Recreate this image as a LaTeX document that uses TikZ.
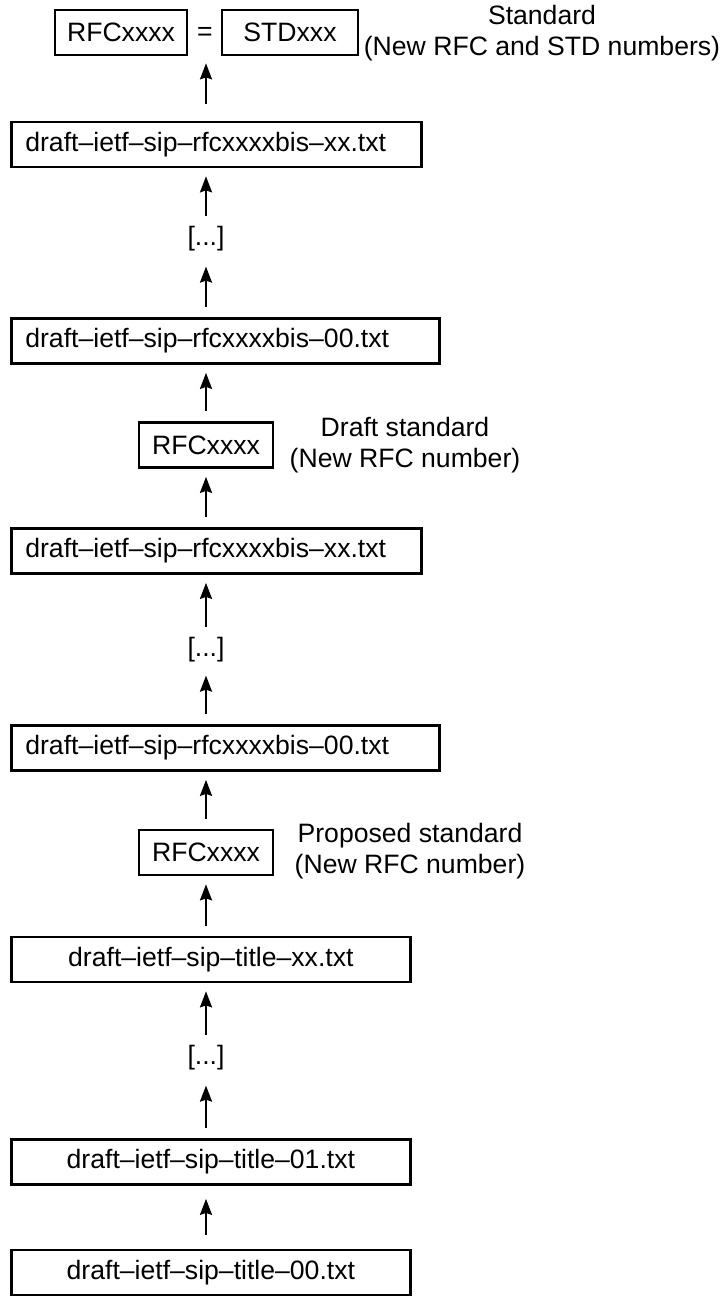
\documentclass[tikz,border=0pt]{standalone}
\usepackage{fontspec}
\setmainfont{Liberation Sans}
\usetikzlibrary{arrows.meta}
\begin{document}
\begin{tikzpicture}[x=1pt,y=-1pt,
  font=\fontsize{26.6}{31}\selectfont,
  box/.style={draw, line width=2.7pt, inner ysep=0pt, minimum height=45pt},
  filebox/.style={box, anchor=west, inner xsep=14pt, align=left},
  titlebox/.style={box, anchor=west, inner xsep=14pt, align=center, text width=371pt},
  rfcbox/.style={box, inner xsep=0pt},
  lbl/.style={align=center, inner sep=0pt},
  dotsnode/.style={inner sep=0pt},
  arr/.style={line width=2.2pt, -{Stealth[length=16pt,width=12pt,inset=2pt]}, shorten >=8pt, shorten <=10pt}]
\useasboundingbox (0,0) rectangle (723,1296);
\coordinate (ax) at (206,0);
% top row
\node[rfcbox, minimum width=132pt] (rfcT) at (121,32.5) {RFCxxxx};
\node[inner sep=0pt] (eq) at (205,34) {=};
\node[rfcbox, minimum width=136pt] (stdT) at (290,32.5) {STDxxx};
\node[lbl] (stdL) at (542,33) {Standard\\(New RFC and STD numbers)};
% draft standard part
\node[filebox, text width=382pt] (b1) at (10,144.5) {draft–ietf–sip–rfcxxxxbis–xx.txt};
\node[dotsnode] (d1) at (206,239) {[...]};
\node[filebox, text width=400pt] (b2) at (10,341) {draft–ietf–sip–rfcxxxxbis–00.txt};
\node[rfcbox, minimum width=134pt] (r1) at (206,445) {RFCxxxx};
\node[lbl] (l1) at (405,445) {Draft standard\\(New RFC number)};
% proposed standard part
\node[filebox, text width=382pt] (b3) at (10,551) {draft–ietf–sip–rfcxxxxbis–xx.txt};
\node[dotsnode] (d2) at (206,650) {[...]};
\node[filebox, text width=400pt] (b4) at (10,748) {draft–ietf–sip–rfcxxxxbis–00.txt};
\node[rfcbox, minimum width=134pt] (r2) at (206,852.5) {RFCxxxx};
\node[lbl] (l2) at (410,851) {Proposed standard\\(New RFC number)};
% internet drafts
\node[titlebox] (t1) at (10,959.5) {draft–ietf–sip–title–xx.txt};
\node[dotsnode] (d3) at (206,1058) {[...]};
\node[titlebox] (t2) at (10,1162) {draft–ietf–sip–title–01.txt};
\node[titlebox] (t3) at (10,1272.5) {draft–ietf–sip–title–00.txt};
% arrows
\draw[arr, shorten >=13pt, shorten <=14pt] (t3.north -| ax) -- (t2.south -| ax);
\draw[arr, shorten >=15pt] (t2.north -| ax) -- (d3.south);
\draw[arr] (d3.north) -- (t1.south -| ax);
\draw[arr] (t1.north -| ax) -- (r2.south);
\draw[arr] (r2.north) -- (b4.south -| ax);
\draw[arr, shorten >=13pt] (b4.north -| ax) -- (d2.south);
\draw[arr] (d2.north) -- (b3.south -| ax);
\draw[arr] (b3.north -| ax) -- (r1.south);
\draw[arr] (r1.north) -- (b2.south -| ax);
\draw[arr, shorten >=15pt] (b2.north -| ax) -- (d1.south);
\draw[arr] (d1.north) -- (b1.south -| ax);
\draw[arr, shorten >=7pt, shorten <=17pt] (b1.north -| ax) -- (rfcT.south -| ax);
\end{tikzpicture}
\end{document}
